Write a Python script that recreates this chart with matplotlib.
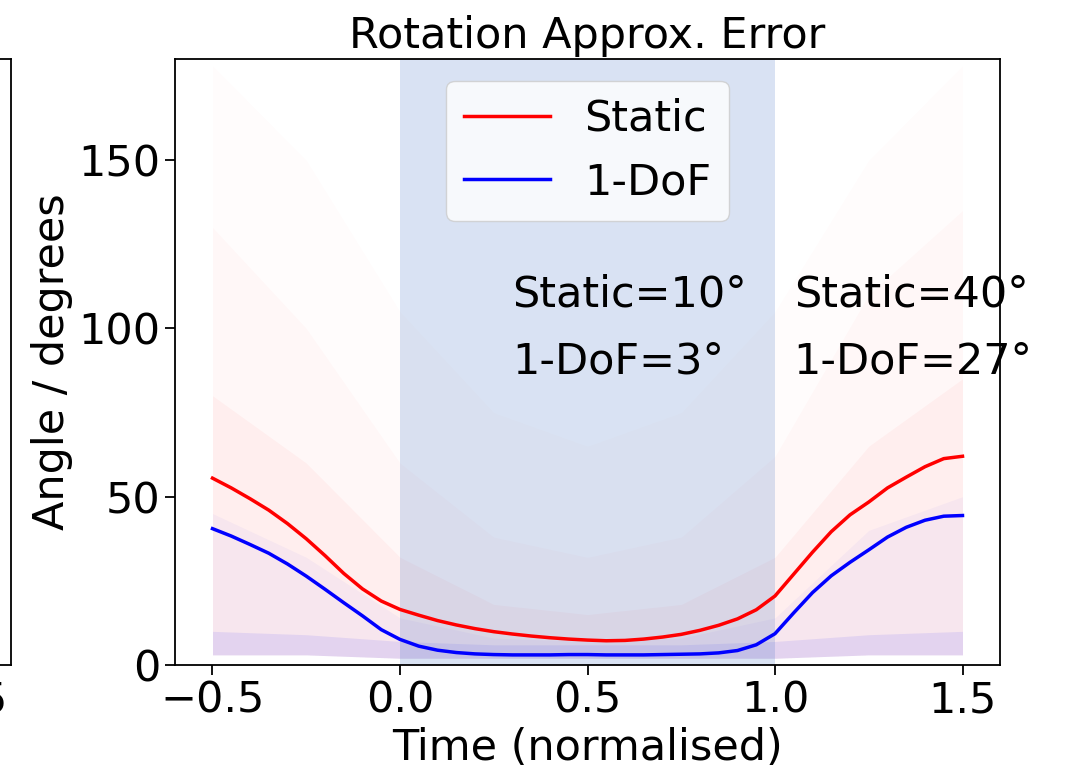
import numpy as np
import matplotlib
matplotlib.use("Agg")
import matplotlib.pyplot as plt

# ---- data ----
t = [-0.50, -0.45, -0.40, -0.35, -0.30, -0.25, -0.20, -0.15, -0.10, -0.05,
     0.00, 0.05, 0.10, 0.15, 0.20, 0.25, 0.30, 0.35, 0.40, 0.45,
     0.50, 0.55, 0.60, 0.65, 0.70, 0.75, 0.80, 0.85, 0.90, 0.95,
     1.00, 1.05, 1.10, 1.15, 1.20, 1.25, 1.30, 1.35, 1.40, 1.45, 1.50]
static_err = [55.5, 52.6, 49.4, 46.0, 42.0, 37.5, 32.5, 27.2, 22.6, 19.0,
              16.5, 14.8, 13.2, 11.9, 10.8, 9.9, 9.2, 8.6, 8.1, 7.7,
              7.4, 7.2, 7.3, 7.7, 8.3, 9.1, 10.3, 11.8, 13.7, 16.4,
              20.5, 27.0, 33.5, 39.6, 44.6, 48.4, 52.6, 55.8, 58.9, 61.3, 62.0]
dof1_err = [40.5, 38.3, 35.8, 33.2, 30.0, 26.4, 22.5, 18.5, 14.6, 10.5,
            7.6, 5.6, 4.4, 3.7, 3.3, 3.1, 3.0, 3.0, 3.0, 3.1,
            3.1, 3.0, 3.0, 3.0, 3.1, 3.2, 3.3, 3.6, 4.3, 6.0,
            9.3, 15.5, 21.5, 26.5, 30.5, 34.2, 38.0, 40.9, 43.0, 44.2, 44.4]

# spread of the individual trajectories (faint haze), estimated envelopes
haze_t = [-0.5, -0.25, 0.0, 0.25, 0.5, 0.75, 1.0, 1.25, 1.5]
haze_floor = [3, 3, 2, 2, 2, 2, 2, 3, 3]
red_outer = [178, 150, 105, 75, 65, 75, 105, 150, 178]
red_mid = [130, 100, 60, 38, 32, 38, 62, 110, 135]
red_inner = [80, 60, 32, 18, 15, 18, 32, 65, 85]
blue_inner = [45, 32, 14, 8, 7, 8, 14, 40, 50]
blue_core = [10, 9, 7, 6, 6, 6, 7, 9, 10]

ticks_x = [-0.5, 0.0, 0.5, 1.0, 1.5]
ticks_y = [0, 50, 100, 150]
labels = ["Static", "1-DoF"]
ann_mid = ["Static=10°", "1-DoF=3°"]
ann_right = ["Static=40°", "1-DoF=27°"]

FS = 31
plt.rcParams['font.family'] = ['DejaVu Sans']

fig = plt.figure(figsize=(10.68, 7.78), dpi=100)
W, H = 1068, 778

def add_panel(left_px):
    ax = fig.add_axes([left_px / W, (H - 665) / H, 825 / W, 606 / H])
    ax.set_xlim(-0.6, 1.6)
    ax.set_ylim(0, 180)
    ax.set_yticks(ticks_y)
    ax.tick_params(labelsize=FS, length=7, width=1.3)
    for s in ax.spines.values():
        s.set_linewidth(1.3)
    return ax

# partial neighbouring panel (cut off at the left edge)
axl = add_panel(-814)
axl.set_xticks(ticks_x[-1:])
axl.set_yticklabels([])

ax = add_panel(175)
ax.set_xticks(ticks_x)

ax.fill_between(haze_t, haze_floor, red_outer, color='red', alpha=0.012, lw=0)
ax.fill_between(haze_t, haze_floor, red_mid, color='red', alpha=0.02, lw=0)
ax.fill_between(haze_t, haze_floor, red_inner, color='red', alpha=0.035, lw=0)
ax.fill_between(haze_t, haze_floor, blue_inner, color='blue', alpha=0.03, lw=0)
ax.fill_between(haze_t, haze_floor, blue_core, color='blue', alpha=0.08, lw=0)

ax.axvspan(0, 1, color='#4472c4', alpha=0.2, lw=0)

ax.plot(t, static_err, color='red', lw=2.5, label=labels[0])
ax.plot(t, dof1_err, color='blue', lw=2.5, label=labels[1])

ax.legend(loc='upper center', fontsize=FS, handlelength=2.0,
          bbox_to_anchor=(0.5, 1.0))

ax.text(0.3, 110, ann_mid[0], fontsize=FS, va='center', ha='left')
ax.text(0.3, 90, ann_mid[1], fontsize=FS, va='center', ha='left')
ax.text(1.05, 110, ann_right[0], fontsize=FS, va='center', ha='left', clip_on=False)
ax.text(1.05, 90, ann_right[1], fontsize=FS, va='center', ha='left', clip_on=False)

ax.set_title("Rotation Approx. Error", fontsize=FS, pad=8)
ax.set_xlabel("Time (normalised)", fontsize=FS, labelpad=4)
ax.set_ylabel("Angle / degrees", fontsize=FS)

fig.savefig("out.png", dpi=100)
